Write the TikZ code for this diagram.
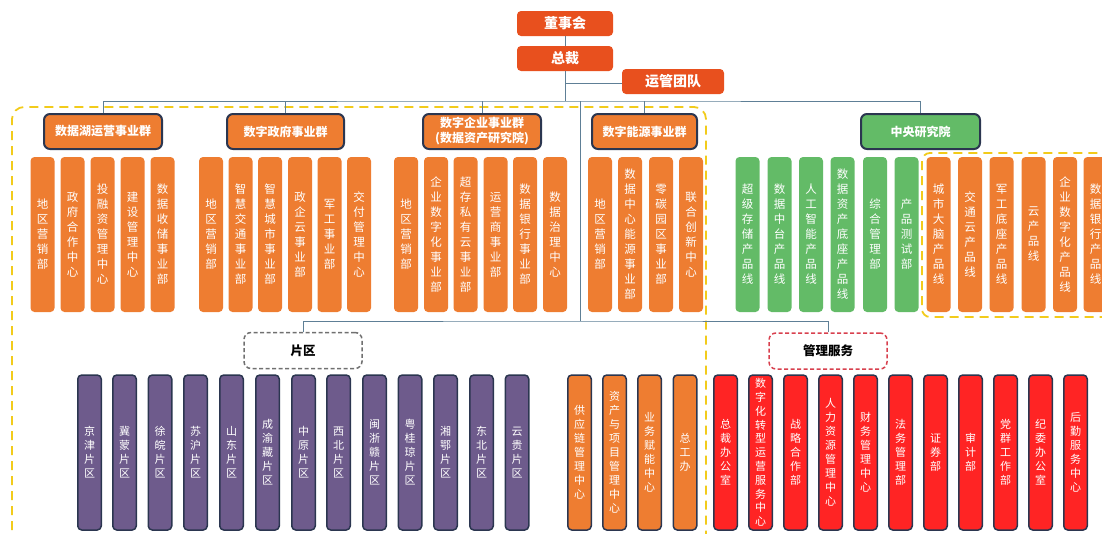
\documentclass[tikz,border=0pt]{standalone}
\usepackage{fontspec}
\newfontfamily\cjk{Noto Sans CJK SC}
\definecolor{topred}{HTML}{E8501E}
\definecolor{org}{HTML}{EE7D31}
\definecolor{grn}{HTML}{63BB67}
\definecolor{rd}{HTML}{FF2424}
\definecolor{prp}{HTML}{6E5B8C}
\definecolor{dk}{HTML}{2B3650}
\definecolor{ln}{HTML}{5E7F96}
\definecolor{ylw}{HTML}{F2CB1B}
\definecolor{pqgray}{HTML}{707070}
\definecolor{gfred}{HTML}{D8404E}
\tikzset{
  topbox/.style={fill=topred, rounded corners=4pt, text=white, font=\cjk\bfseries\fontsize{14}{16}\selectfont, inner sep=0pt, minimum height=25pt},
  grp/.style={draw=dk, line width=2pt, rounded corners=6pt, fill=org, text=white, font=\cjk\bfseries\fontsize{12}{15}\selectfont, inner sep=0pt, minimum height=35pt, align=center},
  colA/.style={fill=org, rounded corners=4pt, text=white, font=\cjk\fontsize{11.5}{15}\selectfont, inner sep=0pt, minimum width=24pt, minimum height=155pt, align=center},
  colG/.style={colA, fill=grn},
  colB/.style={draw=dk, line width=1.5pt, rounded corners=4pt, text=white, font=\cjk\fontsize{11}{14}\selectfont, inner sep=0pt, minimum width=23.5pt, minimum height=155pt, align=center},
  colP/.style={colB, fill=prp},
  colO/.style={colB, fill=org},
  colR/.style={colB, fill=rd},
  subbox/.style={dashed, line width=1.5pt, dash pattern=on 4pt off 2.5pt, rounded corners=7pt, fill=white, text=black, font=\cjk\bfseries\fontsize{12.5}{15}\selectfont, inner sep=0pt, minimum width=118pt, minimum height=36pt},
  conn/.style={draw=ln, line width=0.9pt},
  ydash/.style={draw=ylw, line width=1.8pt, dash pattern=on 9pt off 6pt}
}
\begin{document}
\begin{tikzpicture}[x=1pt,y=-1pt]
\useasboundingbox (0,0) rectangle (1102,533);
% yellow dashed regions
\draw[ydash, rounded corners=12pt] (12,560) -- (12,107) -- (706,107) -- (706,560);
\draw[ydash, rounded corners=8pt] (922,153) rectangle (1125,317);
% top boxes
\node[topbox, minimum width=96pt] (dsh) at (565,23.5) {董事会};
\node[topbox, minimum width=96pt] (zc) at (565,58.5) {总裁};
\node[topbox, minimum width=102pt] (ygtd) at (673,81.5) {运管团队};
% group headers
\node[grp, minimum width=118pt] (gl) at (103,131.5) {数据湖运营事业群};
\node[grp, minimum width=117pt] (gz) at (285.5,131.5) {数字政府事业群};
\node[grp, minimum width=118pt] (gq) at (482,131.5) {数字企业事业群\\(数据资产研究院)};
\node[grp, minimum width=105pt] (gn) at (644.5,131.5) {数字能源事业群};
\node[grp, minimum width=119pt, fill=grn] (gy) at (920.5,131.5) {中央研究院};
% connectors
\coordinate (bus) at (565,101);
\coordinate (yg) at (565,83);
\coordinate (sp) at (580,101);
\coordinate (sp2) at (580,321);
\draw[conn] (dsh) -- (zc);
\draw[conn] (zc.south) -- (bus);
\draw[conn] (yg) -- (yg -| ygtd.west);
\draw[conn] (gl.north) |- (bus) -| (gy.north);
\draw[conn] (gz.north) -- (gz.north |- bus);
\draw[conn] (gq.north) -- (gq.north |- bus);
\draw[conn] (gn.north) -- (gn.north |- bus);
\draw[conn] (sp) -- (sp2);
% group 1
\node[colA] (d1) at (42.5,234.5) {地\\区\\营\\销\\部};
\node[colA] (d2) at (72.5,234.5) {政\\府\\合\\作\\中\\心};
\node[colA] (d3) at (102.5,234.5) {投\\融\\资\\管\\理\\中\\心};
\node[colA] (d4) at (132.5,234.5) {建\\设\\管\\理\\中\\心};
\node[colA] (d5) at (162.5,234.5) {数\\据\\收\\储\\事\\业\\部};
% group 2
\node[colA] (e1) at (211,234.5) {地\\区\\营\\销\\部};
\node[colA] (e2) at (240.5,234.5) {智\\慧\\交\\通\\事\\业\\部};
\node[colA] (e3) at (270,234.5) {智\\慧\\城\\市\\事\\业\\部};
\node[colA] (e4) at (300,234.5) {政\\企\\云\\事\\业\\部};
\node[colA] (e5) at (329.5,234.5) {军\\工\\事\\业\\部};
\node[colA] (e6) at (359,234.5) {交\\付\\管\\理\\中\\心};
% group 3
\node[colA] (f1) at (406,234.5) {地\\区\\营\\销\\部};
\node[colA] (f2) at (436,234.5) {企\\业\\数\\字\\化\\事\\业\\部};
\node[colA] (f3) at (465.5,234.5) {超\\存\\私\\有\\云\\事\\业\\部};
\node[colA] (f4) at (495.5,234.5) {运\\营\\商\\事\\业\\部};
\node[colA] (f5) at (525,234.5) {数\\据\\银\\行\\事\\业\\部};
\node[colA] (f6) at (555,234.5) {数\\据\\治\\理\\中\\心};
% group 4
\node[colA] (h1) at (600,234.5) {地\\区\\营\\销\\部};
\node[colA] (h2) at (630,234.5) {数\\据\\中\\心\\能\\源\\事\\业\\部};
\node[colA] (h3) at (661,234.5) {零\\碳\\园\\区\\事\\业\\部};
\node[colA] (h4) at (691,234.5) {联\\合\\创\\新\\中\\心};
% green
\node[colG] (g1) at (747.5,234.5) {超\\级\\存\\储\\产\\品\\线};
\node[colG] (g2) at (779.5,234.5) {数\\据\\中\\台\\产\\品\\线};
\node[colG] (g3) at (811,234.5) {人\\工\\智\\能\\产\\品\\线};
\node[colG] (g4) at (842.5,234.5) {数\\据\\资\\产\\底\\座\\产\\品\\线};
\node[colG] (g5) at (875,234.5) {综\\合\\管\\理\\部};
\node[colG] (g6) at (906.5,234.5) {产\\品\\测\\试\\部};
% product lines
\node[colA] (p1) at (938.5,234.5) {城\\市\\大\\脑\\产\\品\\线};
\node[colA] (p2) at (970,234.5) {交\\通\\云\\产\\品\\线};
\node[colA] (p3) at (1001.5,234.5) {军\\工\\底\\座\\产\\品\\线};
\node[colA] (p4) at (1033.5,234.5) {云\\产\\品\\线};
\node[colA] (p5) at (1065,234.5) {企\\业\\数\\字\\化\\产\\品\\线};
\node[colA] (p6) at (1095.5,234.5) {数\\据\\银\\行\\产\\品\\线};
% sub headers
\node[subbox, draw=pqgray] (pq) at (303,350.5) {片区};
\node[subbox, draw=gfred] (gf) at (828,351) {管理服务};
\draw[conn] (pq.north) |- (sp2) -| (gf.north);
% purple
\node[colP] (q1) at (89.5,452.5) {京\\津\\片\\区};
\node[colP] (q2) at (124.5,452.5) {冀\\蒙\\片\\区};
\node[colP] (q3) at (160,452.5) {徐\\皖\\片\\区};
\node[colP] (q4) at (195.5,452.5) {苏\\沪\\片\\区};
\node[colP] (q5) at (231.5,452.5) {山\\东\\片\\区};
\node[colP] (q6) at (267.5,452.5) {成\\渝\\藏\\片\\区};
\node[colP] (q7) at (303.5,452.5) {中\\原\\片\\区};
\node[colP] (q8) at (338.5,452.5) {西\\北\\片\\区};
\node[colP] (q9) at (374.5,452.5) {闽\\浙\\赣\\片\\区};
\node[colP] (q10) at (410,452.5) {粤\\桂\\琼\\片\\区};
\node[colP] (q11) at (445.5,452.5) {湘\\鄂\\片\\区};
\node[colP] (q12) at (481.5,452.5) {东\\北\\片\\区};
\node[colP] (q13) at (517,452.5) {云\\贵\\片\\区};
% bottom orange
\node[colO] (o1) at (579.5,452.5) {供\\应\\链\\管\\理\\中\\心};
\node[colO] (o2) at (614.5,452.5) {资\\产\\与\\项\\目\\管\\理\\中\\心};
\node[colO] (o3) at (649.5,452.5) {业\\务\\赋\\能\\中\\心};
\node[colO] (o4) at (685,452.5) {总\\工\\办};
% red
\node[colR] (r1) at (725.5,452.5) {总\\裁\\办\\公\\室};
\node[colR, font=\cjk\fontsize{11}{13.8}\selectfont] (r2) at (760.5,452.5) {数\\字\\化\\转\\型\\运\\营\\服\\务\\中\\心};
\node[colR] (r3) at (795.5,452.5) {战\\略\\合\\作\\部};
\node[colR] (r4) at (830.5,452.5) {人\\力\\资\\源\\管\\理\\中\\心};
\node[colR] (r5) at (865.5,452.5) {财\\务\\管\\理\\中\\心};
\node[colR] (r6) at (900.5,452.5) {法\\务\\管\\理\\部};
\node[colR] (r7) at (935.5,452.5) {证\\券\\部};
\node[colR] (r8) at (970.5,452.5) {审\\计\\部};
\node[colR] (r9) at (1005.5,452.5) {党\\群\\工\\作\\部};
\node[colR] (r10) at (1040.5,452.5) {纪\\委\\办\\公\\室};
\node[colR] (r11) at (1075.5,452.5) {后\\勤\\服\\务\\中\\心};
\end{tikzpicture}
\end{document}
